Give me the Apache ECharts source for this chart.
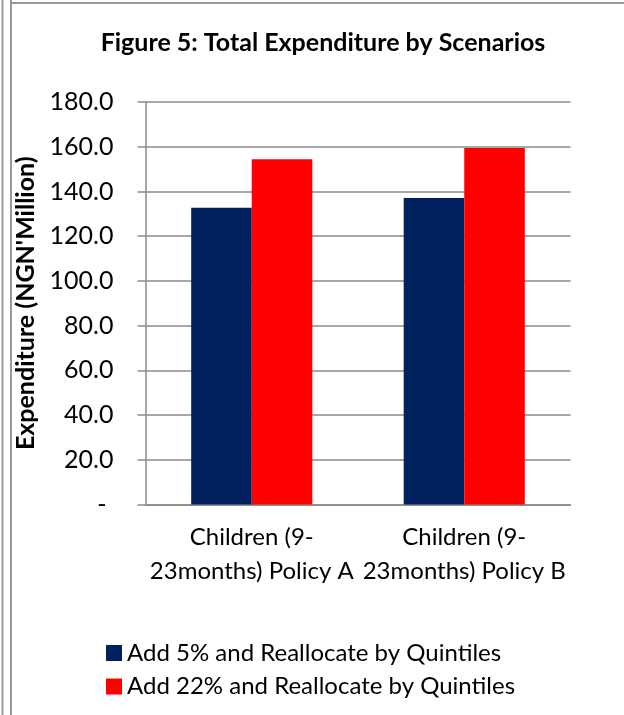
<!DOCTYPE html>
<html>
<head>
<meta charset="utf-8">
<script src="https://cdn.jsdelivr.net/npm/echarts@6/dist/echarts.min.js"></script>
<style>
  html, body { margin: 0; padding: 0; background: #fff; }
  #chart { width: 624px; height: 715px; }
</style>
</head>
<body>
<div id="chart"></div>
<script>
// Scenario categories (label wraps after the hyphen)
const categories = ['Children (9-\n23months) Policy A', 'Children (9-\n23months) Policy B'];
// Total expenditure, NGN million
const add5Values = [132.7, 137.1];
const add22Values = [154.4, 159.4];
const seriesNames = ['Add 5% and Reallocate by Quintiles', 'Add 22% and Reallocate by Quintiles'];
const yMin = 0, yMax = 180, yStep = 20;

const FONT = 'Lato, "Open Sans", sans-serif';
const GRID_GRAY = '#8a8a8a';

const chart = echarts.init(document.getElementById('chart'), null, { renderer: 'canvas' });

chart.setOption({
  backgroundColor: '#ffffff',
  animation: false,
  title: {
    text: 'Figure 5: Total Expenditure by Scenarios',
    left: 318,
    textAlign: 'center',
    top: 25,
    textStyle: { fontFamily: FONT, fontSize: 25, fontWeight: 'bold', color: '#000' }
  },
  grid: { left: 145.5, right: 53.5, top: 102, bottom: 210.5 },
  xAxis: {
    type: 'category',
    data: categories,
    axisLine: { lineStyle: { color: GRID_GRAY, width: 1.5 } },
    axisTick: { show: false },
    axisLabel: {
      fontFamily: FONT, fontSize: 24, color: '#000',
      lineHeight: 34, margin: 16, interval: 0
    }
  },
  yAxis: {
    type: 'value',
    min: yMin, max: yMax, interval: yStep,
    name: "Expenditure (NGN'Million)",
    nameLocation: 'middle',
    nameGap: 93,
    nameRotate: 90,
    nameTextStyle: { fontFamily: FONT, fontSize: 25, fontWeight: 'bold', color: '#000' },
    axisLine: { show: true, lineStyle: { color: GRID_GRAY, width: 1.5 } },
    axisTick: { show: true, length: 8, lineStyle: { color: GRID_GRAY, width: 1.5 } },
    splitLine: { show: true, lineStyle: { color: GRID_GRAY, width: 1.5 } },
    axisLabel: {
      fontFamily: FONT, fontSize: 25, color: '#000', margin: 32,
      formatter: v => v === 0 ? '{z|-}' : v.toFixed(1),
      rich: { z: { fontFamily: FONT, fontSize: 25, color: '#000', padding: [0, 7, 0, 0] } }
    }
  },
  legend: {
    orient: 'vertical',
    left: 101,
    top: 636,
    itemWidth: 16,
    itemHeight: 16,
    itemGap: 9.5,
    icon: 'rect',
    textStyle: { fontFamily: FONT, fontSize: 24, color: '#000', lineHeight: 24 },
    data: seriesNames
  },
  series: [
    {
      name: seriesNames[0], type: 'bar', data: add5Values,
      itemStyle: { color: '#002060' },
      barGap: '0%', barCategoryGap: '43%'
    },
    {
      name: seriesNames[1], type: 'bar', data: add22Values,
      itemStyle: { color: '#ff0000' },
      barGap: '0%', barCategoryGap: '43%'
    }
  ],
  graphic: [
    // double frame on the left edge and the top rule
    { type: 'line', shape: { x1: 2.5, y1: 0, x2: 2.5, y2: 715 }, style: { stroke: '#999', lineWidth: 2 } },
    { type: 'line', shape: { x1: 11, y1: 0, x2: 11, y2: 715 }, style: { stroke: '#999', lineWidth: 2 } },
    { type: 'line', shape: { x1: 11, y1: 3, x2: 624, y2: 3 }, style: { stroke: '#999', lineWidth: 2 } }
  ]
});
</script>
</body>
</html>
